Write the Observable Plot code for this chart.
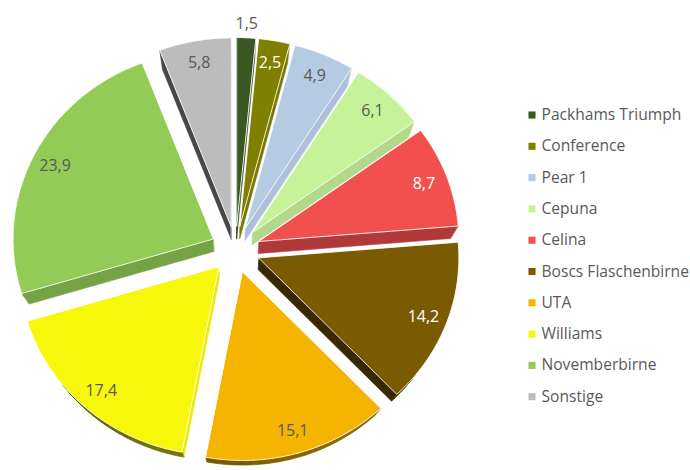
<!DOCTYPE html>
<html>
<head>
<meta charset="utf-8">
<script src="https://cdn.jsdelivr.net/npm/d3@7"></script>
<script src="https://cdn.jsdelivr.net/npm/@observablehq/plot@0.6"></script>
<style>
  html, body { margin: 0; padding: 0; background: #ffffff; }
  #chart { width: 690px; height: 470px; overflow: hidden; }
</style>
</head>
<body>
<div id="chart"></div>
<script>
// ---- data ----
const categories = ["Packhams Triumph", "Conference", "Pear 1", "Cepuna", "Celina",
  "Boscs Flaschenbirne", "UTA", "Williams", "Novemberbirne", "Sonstige"];
const values = [1.5, 2.5, 4.9, 6.1, 8.7, 14.2, 15.1, 17.4, 23.9, 5.8];
const colors = ["#385723", "#7f7f00", "#b5cbe4", "#c6f299", "#f24f4f",
  "#7b5a04", "#f4b400", "#f7f70a", "#92cb55", "#bcbcbc"];
const labelColors = ["#595959", "#ffffff", "#595959", "#595959", "#ffffff",
  "#ffffff", "#595959", "#595959", "#595959", "#595959"];
const outsideLabel = [true, false, false, false, false, false, false, false, false, false];

// ---- layout constants ----
const W = 690, H = 470;
const cx = 235, cy = 249, R = 200, S = 0.942, EXP = 25;
const K = 0.035, D = 12;           // 3D side: perspective shrink + drop
const fmt = v => d3.format(".1f")(v).replace(".", ",");

const arcs = d3.pie().sort(null).value(d => d)(values);

const tops = [], sides = [], labelRows = [];
const bottom = p => [p[0] + (cx - p[0]) * K, p[1] + (cy - p[1]) * K + D];
const shade = (c, k) => {
  const r = d3.rgb(c);
  return d3.rgb(r.r * k, r.g * k, r.b * k).formatHex();
};

arcs.forEach((a, i) => {
  const mid = (a.startAngle + a.endAngle) / 2;
  const ox = cx + EXP * Math.sin(mid);
  const oy = cy - S * EXP * Math.cos(mid);
  const pt = (r, ang) => [ox + r * Math.sin(ang), oy - S * r * Math.cos(ang)];
  const poly = [[ox, oy]];
  const n = Math.max(4, Math.ceil((a.endAngle - a.startAngle) / (Math.PI / 180)));
  for (let j = 0; j <= n; j++) {
    poly.push(pt(R, a.startAngle + (a.endAngle - a.startAngle) * j / n));
  }
  poly.forEach(p => tops.push({id: "t" + i, x: p[0], y: p[1], fill: colors[i]}));

  // side faces
  for (let j = 0; j < poly.length; j++) {
    const p = poly[j], q = poly[(j + 1) % poly.length];
    const dx = q[0] - p[0], dy = q[1] - p[1];
    const len = Math.hypot(dx, dy) || 1;
    const nx = dy / len, ny = -dx / len;
    const m = [(p[0] + q[0]) / 2, (p[1] + q[1]) / 2];
    const bm = bottom(m);
    const dot = (bm[0] - m[0]) * nx + (bm[1] - m[1]) * ny;
    if (dot <= 0) continue;
    const radial = (j === 0 || j === poly.length - 1);
    const k = radial ? Math.max(0.3, Math.min(0.95, 0.7 + 0.35 * nx))
                     : Math.max(0.35, Math.min(0.8, 0.5 + 0.15 * nx));
    const f = shade(colors[i], k);
    const bp = bottom(p), bq = bottom(q);
    const id = "s" + i + "_" + j;
    [p, q, bq, bp].forEach(v => sides.push({id, x: v[0], y: v[1], fill: f}));
  }

  const lr = outsideLabel[i] ? R + 15 : R * 0.88;
  const lp = pt(lr, mid);
  labelRows.push({x: lp[0], y: lp[1], text: fmt(values[i]), fill: labelColors[i]});
});

const legendRows = categories.map((c, i) => ({
  name: c, color: colors[i], y: 114.5 + i * 31.3
}));

const chart = Plot.plot({
  width: W, height: H,
  margin: 0,
  x: {domain: [0, W], range: [0, W], axis: null},
  y: {domain: [0, H], range: [0, H], axis: null},
  color: {type: "identity"},
  style: {fontFamily: "'Open Sans', sans-serif", background: "#ffffff"},
  marks: [
    Plot.line(sides, {x: "x", y: "y", z: "id", fill: "fill", stroke: "fill",
      strokeWidth: 0.6, curve: "linear-closed"}),
    Plot.line(tops, {x: "x", y: "y", z: "id", fill: "fill", stroke: "#ffffff",
      strokeWidth: 1, strokeOpacity: 0.85, curve: "linear-closed"}),
    Plot.text(labelRows, {x: "x", y: "y", text: "text", fill: "fill",
      fontSize: 16, textAnchor: "middle", lineAnchor: "middle"}),
    Plot.dot(legendRows, {x: () => 531.5, y: "y", symbol: "square", r: 4,
      fill: "color", stroke: null}),
    Plot.text(legendRows, {x: () => 541, y: "y", text: "name", fill: "#595959",
      fontSize: 15.6, textAnchor: "start", lineAnchor: "middle"})
  ]
});
document.getElementById("chart").appendChild(chart);
</script>
</body>
</html>
